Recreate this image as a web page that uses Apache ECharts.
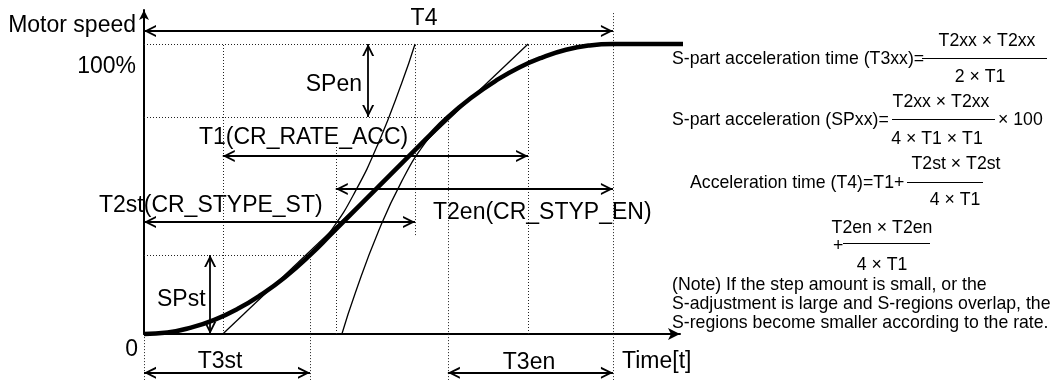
<!DOCTYPE html>
<html><head><meta charset="utf-8">
<script src="https://cdn.jsdelivr.net/npm/echarts@6/dist/echarts.min.js"></script>
<style>html,body{margin:0;padding:0;background:#fff}#c{width:1051px;height:380px}</style>
</head><body><div id="c"></div>
<script>
// Units: time where T4 = 100, speed in percent (100% = target speed)
const speedCurve = [[0,0],[5,0.5],[10,2.2],[15,4.9],[20,8.7],[25,13.6],[30,19.5],[35.4,27.2],[40,34.6],[45,42.7],[50,50.8],[55,58.9],[60,67.0],[64.8,74.8],[70,81.7],[75,87.3],[80,91.9],[85,95.4],[90,98.0],[95,99.5],[100,100],[116.8,100]];
const startCurveExt = [[35.4,27.2],[40,35.9],[45,49.0],[50,65.9],[55,86.7],[57.8,100]];
const endCurveExt = [[42.2,0],[45,13.9],[50,35.4],[55,52.8],[60,66.0],[64.8,74.8]];
const rampLine = [[16.8,0],[81.9,100]];
// vertical guides: [time, speedFrom, speedTo]
const guideVertical = [[0,-15.9,0],[16.8,0,100],[35.4,-15.9,27.2],[40.9,0,64.5],[57.8,34.1,100],[64.8,-15.9,74.8],[81.9,0,100],[100,-15.9,111]];
// horizontal guides: [speed, timeFrom, timeTo]
const guideHorizontal = [[100,0,100],[74.8,0,64.8],[27.2,0,35.4]];
// dimension arrows: [time1, speed1, time2, speed2]
const dimArrows = [[0,104.5,100,104.5],[16.8,61.4,81.9,61.4],[40.9,50,100,50],[0,38.6,57.8,38.6],[0,-13.4,35.4,-13.4],[64.8,-13.4,100,-13.4],[47.8,100,47.8,74.8],[14.1,27.2,14.1,0]];

const mainTexts = ['Motor speed','100%','0','Time[t]','T4','SPen','T1(CR_RATE_ACC)','T2st(CR_STYPE_ST)','T2en(CR_STYP_EN)','SPst','T3st','T3en'];
const formulaTexts = ['T2xx × T2xx','S-part acceleration time (T3xx)=','2 × T1','T2xx × T2xx','S-part acceleration (SPxx)=','× 100','4 × T1 × T1','T2st × T2st','Acceleration time (T4)=T1+','4 × T1','T2en × T2en','+','4 × T1'];
const noteTexts = ['(Note) If the step amount is small, or the','S-adjustment is large and S-regions overlap, the','S-regions become smaller according to the rate.'];

// ---- layout (pixels) ----
const mainPos = [[136,26,'right'],[136,67,'right'],[138,350,'right'],[622,362,'left'],[424,19,'center'],[362,85,'right'],[199,138,'left'],[99,206,'left'],[433,213,'left'],[157,300,'left'],[220,362,'center'],[529,363,'center']];
const formulaPos = [[987,41,'center'],[672,59,'left'],[980,77,'center'],[941,102,'center'],[672,120,'left'],[998,120,'left'],[937,139,'center'],[956,164,'center'],[690,183,'left'],[955,200,'center'],[882,228,'center'],[833,246,'left'],[882,265,'center']];
const notePos = [[672,285],[672,304],[672,323]];
const fractionBars = [[922,1047,58],[892,995,119],[907,983,182],[843,930,243]];

const FONT = '"Liberation Sans", Arial, sans-serif';
const chevron = 'path://M10,0L20,20L16.6,20L10,6.8L3.4,20L0,20Z M-10,-20L-10,-20 M30,-20L30,-20';

const graphics = [];
mainTexts.forEach((t,i)=>{const p=mainPos[i];graphics.push({type:'text',x:p[0],y:p[1],silent:true,style:{text:t,font:'23px '+FONT,fill:'#000',align:p[2],verticalAlign:'middle'}});});
formulaTexts.forEach((t,i)=>{const p=formulaPos[i];graphics.push({type:'text',x:p[0],y:p[1],silent:true,style:{text:t,font:'17.7px '+FONT,fill:'#000',align:p[2],verticalAlign:'middle'}});});
noteTexts.forEach((t,i)=>{const p=notePos[i];graphics.push({type:'text',x:p[0],y:p[1],silent:true,style:{text:t,font:'17.7px '+FONT,fill:'#000',align:'left',verticalAlign:'middle'}});});
fractionBars.forEach(b=>graphics.push({type:'line',silent:true,shape:{x1:b[0],y1:b[2]+0.5,x2:b[1],y2:b[2]+0.5},style:{stroke:'#000',lineWidth:1}}));

const chart = echarts.init(document.getElementById('c'), null, {renderer:'canvas'});
chart.setOption({
  animation:false,
  backgroundColor:'#fff',
  grid:{left:144,right:371,top:10,bottom:46},
  xAxis:{type:'value',min:0,max:114.3,
    axisLine:{onZero:true,symbol:['none','arrow'],symbolSize:[9,12],lineStyle:{color:'#000',width:2}},
    axisTick:{show:false},axisLabel:{show:false},splitLine:{show:false}},
  yAxis:{type:'value',min:0,max:111.72,
    axisLine:{show:true,symbol:['none','arrow'],symbolSize:[7.5,10],lineStyle:{color:'#000',width:2}},
    axisTick:{show:false},axisLabel:{show:false},splitLine:{show:false}},
  graphic:graphics,
  series:[
    {type:'lines',coordinateSystem:'cartesian2d',clip:false,silent:true,z:1,
      lineStyle:{color:'#222',width:1,type:[1,2],opacity:1},
      data:guideVertical.map(g=>({coords:[[g[0],g[1]],[g[0],g[2]]]})).concat(
           guideHorizontal.map(g=>({coords:[[g[1],g[0]],[g[2],g[0]]]})))},
    {type:'line',data:rampLine,showSymbol:false,symbol:'none',clip:false,silent:true,z:2,
      lineStyle:{color:'#000',width:1.3}},
    {type:'line',data:startCurveExt,smooth:true,showSymbol:false,symbol:'none',clip:false,silent:true,z:2,
      lineStyle:{color:'#000',width:1.3}},
    {type:'line',data:endCurveExt,smooth:true,showSymbol:false,symbol:'none',clip:false,silent:true,z:2,
      lineStyle:{color:'#000',width:1.3}},
    {type:'line',data:speedCurve,smooth:true,showSymbol:false,symbol:'none',clip:false,silent:true,z:3,
      lineStyle:{color:'#000',width:4.5}},
    {type:'lines',coordinateSystem:'cartesian2d',clip:false,silent:true,z:4,
      symbol:[chevron,chevron],symbolSize:24,
      lineStyle:{color:'#000',width:1.8,opacity:1},
      data:dimArrows.map(a=>({coords:[[a[0],a[1]],[a[2],a[3]]]}))}
  ]
});
</script></body></html>
